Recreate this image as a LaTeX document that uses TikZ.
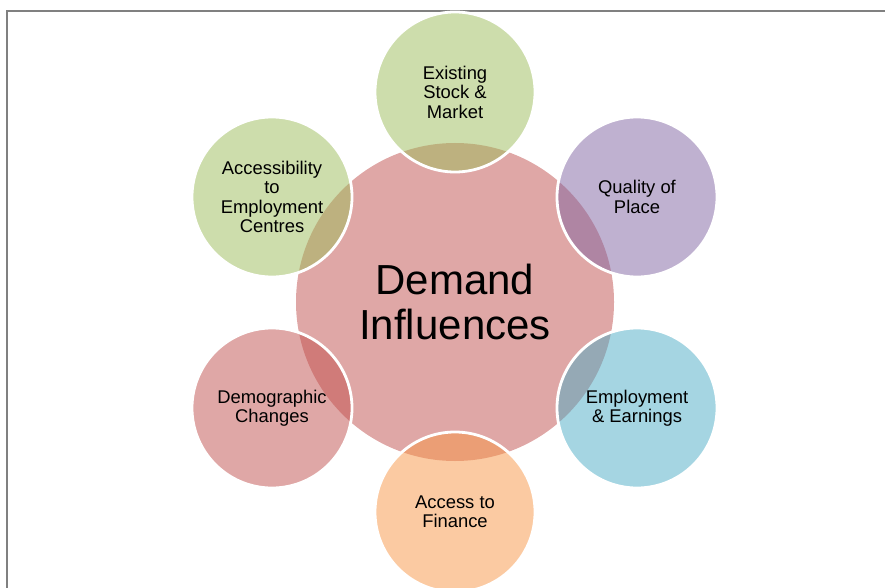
\documentclass[tikz,border=0pt]{standalone}
\usepackage{fontspec}
\setmainfont{Liberation Sans}
\definecolor{accred}{RGB}{192,80,77}
\definecolor{accgreen}{RGB}{155,187,89}
\definecolor{accpurple}{RGB}{128,100,162}
\definecolor{accaqua}{RGB}{75,172,198}
\definecolor{accorange}{RGB}{247,150,70}
\definecolor{framegray}{RGB}{128,128,128}
\begin{document}
\begin{tikzpicture}[x=1pt,y=-1pt,
  hub/.style={circle, minimum size=318pt, inner sep=0pt, fill=accred, fill opacity=0.5, text opacity=1, align=center, font=\fontsize{42}{45}\selectfont},
  petal/.style={circle, minimum size=160pt, inner sep=0pt, draw=white, line width=2.8pt, fill opacity=0.5, draw opacity=1, text opacity=1, align=center, font=\fontsize{18.4}{19.5}\selectfont},
  frameline/.style={draw=framegray, line width=2pt}]
\useasboundingbox (0,0) rectangle (885,588);
\clip (0,0) rectangle (885,588);
\draw[frameline] (7,589) -- (7,11) -- (886,11);
\node[hub] (hub) at (455,302) {Demand\\Influences};
\node[petal, fill=accgreen] (stock) at (455,92) {Existing\\Stock \&\\Market};
\node[petal, fill=accpurple] (quality) at (637,197) {Quality of\\Place};
\node[petal, fill=accaqua] (employ) at (637,408) {Employment\\\& Earnings};
\node[petal, fill=accorange] (finance) at (455,512) {Access to\\Finance};
\node[petal, fill=accred] (demo) at (272,408) {Demographic\\Changes};
\node[petal, fill=accgreen] (access) at (272,197) {Accessibility\\to\\Employment\\Centres};
\end{tikzpicture}
\end{document}
